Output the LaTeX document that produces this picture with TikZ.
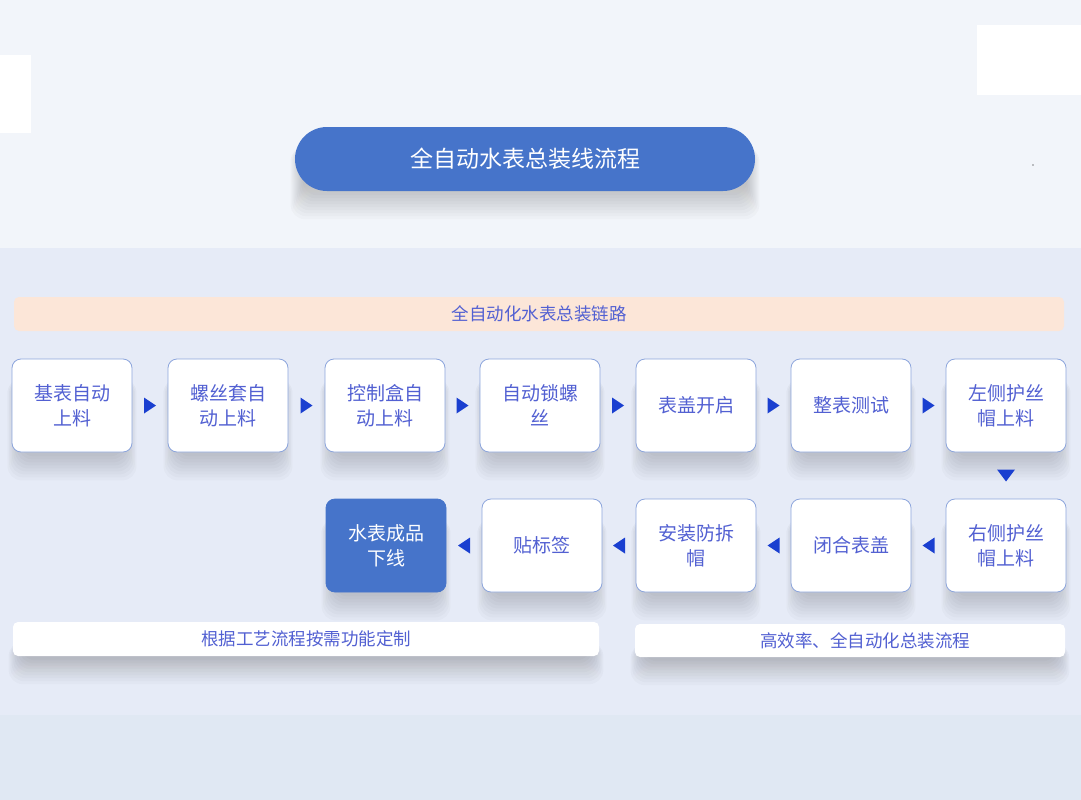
\documentclass[tikz,border=0pt]{standalone}
\usepackage{fontspec}
\newfontfamily\cjk{Noto Sans CJK SC}
\usetikzlibrary{calc}

\definecolor{pagetop}{RGB}{242,245,250}
\definecolor{pagemid}{RGB}{230,235,247}
\definecolor{pagebot}{RGB}{224,232,243}
\definecolor{titleblue}{RGB}{70,116,202}
\definecolor{peach}{RGB}{252,230,216}
\definecolor{stepline}{RGB}{140,165,220}
\definecolor{steptext}{RGB}{82,96,210}
\definecolor{tipblue}{RGB}{26,63,208}
\definecolor{shade}{RGB}{110,80,100}

\pgfdeclarelayer{back}
\pgfdeclarelayer{shadowlayer}
\pgfsetlayers{back,shadowlayer,main}

% soft shadow under a named node
\newcommand\shadeunder[1]{%
  \foreach \k in {0,...,8}
    \fill[shade,opacity=0.02,rounded corners=14pt]
      ($(#1.south west)+(8-1.5*\k,-4-3*\k)$) rectangle ($(#1.north east)+(-8+1.5*\k,-20)$);}

\begin{document}
\begin{tikzpicture}[x=1pt,y=1pt,
  stepbox/.style={draw=stepline,line width=0.8pt,fill=white,rounded corners=9pt,
    minimum width=120pt,minimum height=93pt,inner sep=2pt,align=center,text=steptext,
    font=\cjk\fontsize{19}{25}\selectfont},
  endbox/.style={stepbox,fill=titleblue,draw=titleblue,text=white},
  bar/.style={rounded corners=5pt,minimum height=34pt,inner sep=0pt,text=steptext,
    font=\cjk\fontsize{17.5}{20}\selectfont}]
  \useasboundingbox (0,-800) rectangle (1081,0);
  % background
  \begin{pgfonlayer}{back}
    \fill[pagetop] (0,0) rectangle (1081,-248);
    \fill[pagemid] (0,-248) rectangle (1081,-715);
    \fill[pagebot] (0,-715) rectangle (1081,-800);
    \fill[white] (0,-55) rectangle (31,-133);
    \fill[white] (977,-25) rectangle (1081,-95);
    \fill[black] (1033,-165) circle (0.6);
  \end{pgfonlayer}

  % title
  \node[fill=titleblue,rounded corners=32pt,minimum width=460pt,minimum height=64pt,
    text=white,font=\cjk\fontsize{23}{26}\selectfont] (title) at (525,-159) {全自动水表总装线流程};
  \node[bar,fill=peach,minimum width=1050pt] (chain) at (539,-314) {全自动化水表总装链路};

  % first row
  \node[stepbox] (s1) at (72,-405.5) {基表自动\\上料};
  \node[stepbox] (s2) at (228,-405.5) {螺丝套自\\动上料};
  \node[stepbox] (s3) at (385,-405.5) {控制盒自\\动上料};
  \node[stepbox] (s4) at (540,-405.5) {自动锁螺\\丝};
  \node[stepbox] (s5) at (696,-405.5) {表盖开启};
  \node[stepbox] (s6) at (851,-405.5) {整表测试};
  \node[stepbox] (s7) at (1006,-405.5) {左侧护丝\\帽上料};

  % second row
  \node[stepbox] (r1) at (1006,-545.5) {右侧护丝\\帽上料};
  \node[stepbox] (r2) at (851,-545.5) {闭合表盖};
  \node[stepbox] (r3) at (696,-545.5) {安装防拆\\帽};
  \node[stepbox] (r4) at (542,-545.5) {贴标签};
  \node[endbox] (r5) at (386,-545.5) {水表成品\\下线};

  % arrow heads between the steps
  \foreach \a/\b in {s1/s2,s2/s3,s3/s4,s4/s5,s5/s6,s6/s7}
    \fill[tipblue] ($(\a.east)!.5!(\b.west)$) +(-6,8) -- +(6,0) -- +(-6,-8) -- cycle;
  \fill[tipblue] ($(s7.south)!.5!(r1.north)$) +(-9,6) -- +(0,-6) -- +(9,6) -- cycle;
  \foreach \a/\b in {r1/r2,r2/r3,r3/r4,r4/r5}
    \fill[tipblue] ($(\a.west)!.5!(\b.east)$) +(6,8) -- +(-6,0) -- +(6,-8) -- cycle;

  % notes
  \node[bar,fill=white,minimum width=586pt] (note1) at (306,-639) {根据工艺流程按需功能定制};
  \node[bar,fill=white,minimum width=430pt,minimum height=33pt] (note2) at (850,-640.5) {\hspace{30pt}高效率、全自动化总装流程};

  % shadows
  \begin{pgfonlayer}{shadowlayer}
    \foreach \n in {title,s1,s2,s3,s4,s5,s6,s7,r1,r2,r3,r4,r5,note1,note2}
      {\shadeunder{\n}}
  \end{pgfonlayer}
\end{tikzpicture}
\end{document}
